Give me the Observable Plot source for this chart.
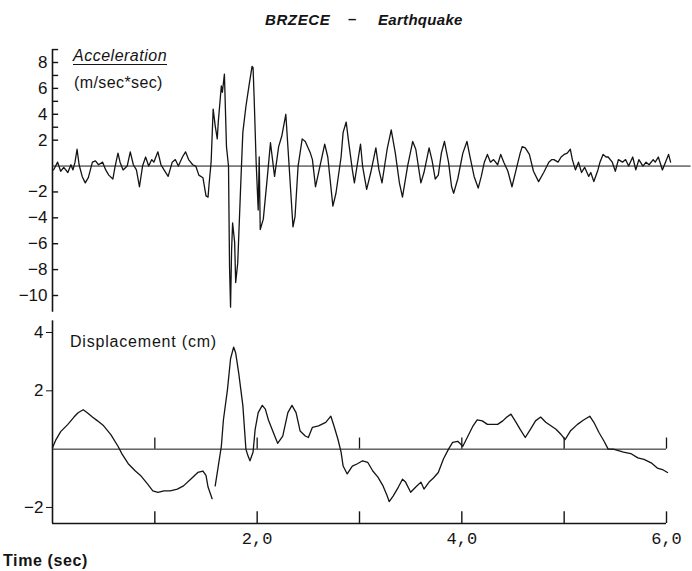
<!DOCTYPE html>
<html>
<head>
<meta charset="utf-8">
<script src="https://cdn.jsdelivr.net/npm/d3@7"></script>
<script src="https://cdn.jsdelivr.net/npm/@observablehq/plot@0.6"></script>
<style>
  html, body { margin: 0; padding: 0; background: #fff; overflow: hidden; }
  #wrap { position: relative; width: 692px; height: 571px; overflow: hidden;
          font-family: "Liberation Sans", Arial, sans-serif; color: #141414; }
  #wrap svg { position: absolute; left: 0; top: 0; }
  .t { position: absolute; white-space: nowrap; line-height: 16px; }
</style>
</head>
<body>
<div id="wrap">
  <div class="t" style="left:265px;top:12px;font-size:15px;font-weight:bold;font-style:italic;letter-spacing:0.6px;">BRZECE</div>
  <div class="t" style="left:348px;top:11px;font-size:15px;font-weight:bold;">–</div>
  <div class="t" style="left:378px;top:12px;font-size:15px;font-weight:bold;font-style:italic;letter-spacing:0.3px;">Earthquake</div>
  <div class="t" style="left:73px;top:48px;font-size:16px;font-style:italic;letter-spacing:0.5px;text-decoration:underline;text-underline-offset:3px;text-decoration-thickness:1px;">Acceleration</div>
  <div class="t" style="left:74px;top:75px;font-size:16px;letter-spacing:0.4px;">(m/sec*sec)</div>
  <div class="t" style="left:70px;top:334px;font-size:16px;letter-spacing:0.8px;">Displacement (cm)</div>
  <div class="t" style="left:3px;top:553px;font-size:16px;font-weight:bold;letter-spacing:0.6px;">Time (sec)</div>
</div>
<script>
// Acceleration record (m/sec*sec)
const accTime = [0.01,0.05,0.08,0.11,0.15,0.18,0.20,0.22,0.24,0.26,
  0.29,0.32,0.35,0.39,0.42,0.45,0.49,0.52,0.55,0.59,
  0.61,0.64,0.66,0.69,0.73,0.76,0.79,0.82,0.85,0.88,
  0.91,0.94,0.97,0.99,1.03,1.06,1.09,1.13,1.17,1.20,
  1.23,1.27,1.30,1.33,1.37,1.40,1.43,1.47,1.50,1.52,
  1.53,1.55,1.57,1.59,1.61,1.62,1.65,1.66,1.68,1.70,
  1.72,1.73,1.74,1.75,1.76,1.78,1.79,1.81,1.84,1.86,
  1.89,1.92,1.95,1.96,1.97,1.99,2.01,2.02,2.03,2.06,
  2.10,2.13,2.17,2.21,2.24,2.28,2.31,2.35,2.37,2.40,
  2.44,2.47,2.52,2.54,2.57,2.60,2.66,2.69,2.74,2.77,
  2.82,2.84,2.87,2.89,2.93,2.95,2.99,3.01,3.03,3.07,
  3.11,3.16,3.19,3.22,3.27,3.31,3.35,3.39,3.42,3.47,
  3.52,3.55,3.60,3.63,3.68,3.71,3.74,3.77,3.80,3.83,
  3.87,3.90,3.92,3.96,4.01,4.05,4.08,4.12,4.16,4.19,
  4.22,4.25,4.28,4.31,4.35,4.38,4.41,4.45,4.49,4.53,
  4.57,4.59,4.62,4.66,4.70,4.75,4.80,4.85,4.88,4.90,
  4.94,4.97,5.00,5.03,5.06,5.08,5.11,5.14,5.17,5.20,
  5.24,5.26,5.29,5.33,5.35,5.38,5.41,5.43,5.47,5.50,
  5.53,5.57,5.60,5.63,5.67,5.70,5.73,5.77,5.80,5.83,
  5.87,5.89,5.92,5.96,5.99,6.02,6.04];
const accValue = [-0.3,0.3,-0.4,-0.1,-0.5,0.1,-0.3,0.3,1.3,0.1,
  -0.8,-1.3,-0.9,0.3,0.4,0.1,0.3,-0.3,-0.7,-1.0,
  -0.1,1.0,0.3,-0.3,0.0,1.1,0.1,-0.3,-1.6,0.0,
  0.7,0.0,0.5,0.3,1.1,0.1,-0.3,-0.8,0.3,0.5,
  0.0,0.7,1.1,0.5,0.1,0.0,-0.7,-0.9,-2.3,-2.4,
  -1.4,0.3,4.4,3.1,2.1,3.4,6.2,5.7,7.1,1.5,
  0.0,-7.8,-10.9,-6.5,-4.4,-5.9,-9.0,-7.5,-1.3,2.6,
  4.6,6.2,7.7,7.6,5.4,0.3,-3.4,0.7,-4.9,-4.1,
  -0.8,1.8,-0.8,1.5,2.3,4.0,0.3,-4.7,-3.9,0.0,
  2.1,1.9,1.0,0.5,-1.6,-0.5,1.7,0.7,-3.1,-2.1,
  0.7,2.6,3.4,2.1,-0.3,-1.3,0.7,1.7,0.0,-1.8,
  -0.5,1.4,-0.3,-1.3,1.3,2.8,1.0,-1.3,-2.4,0.0,
  1.9,1.3,-1.3,-0.5,1.4,0.4,-1.0,-0.7,1.0,1.9,
  0.3,-1.6,-2.1,-1.0,1.0,1.9,0.7,-0.8,-1.7,-0.8,
  0.3,0.9,0.3,0.5,0.1,0.9,0.3,-0.4,-1.6,-0.3,
  1.0,1.5,1.4,0.9,-0.4,-1.2,-0.5,0.3,0.5,0.5,
  0.3,0.7,0.9,1.0,1.3,0.5,-0.3,0.3,-0.5,-0.1,
  -0.8,-0.5,-1.2,-0.3,0.3,0.9,0.7,0.7,0.3,-0.4,
  0.5,0.3,0.5,0.0,0.7,-0.3,0.5,0.0,0.3,0.1,
  0.5,0.3,0.7,-0.3,0.3,0.9,0.3];

// Displacement record (cm); null marks the break in the trace
const dispTime = [0.00,0.03,0.08,0.15,0.21,0.25,0.30,0.34,0.39,0.44,
  0.50,0.57,0.64,0.68,0.74,0.81,0.86,0.93,0.98,1.03,
  1.09,1.15,1.22,1.28,1.35,1.42,1.47,1.50,1.52,1.56,
  1.575,1.59,1.62,1.65,1.67,1.71,1.74,1.77,1.79,1.82,
  1.86,1.89,1.91,1.93,1.96,1.98,2.01,2.05,2.08,2.11,
  2.16,2.20,2.25,2.30,2.34,2.38,2.42,2.47,2.50,2.54,
  2.60,2.67,2.72,2.75,2.79,2.82,2.84,2.88,2.93,2.98,
  3.03,3.08,3.13,3.18,3.23,3.27,3.29,3.33,3.38,3.42,
  3.45,3.50,3.55,3.60,3.63,3.68,3.72,3.77,3.82,3.87,
  3.91,3.96,4.01,4.06,4.11,4.15,4.20,4.25,4.30,4.35,
  4.40,4.44,4.48,4.53,4.57,4.62,4.67,4.72,4.77,4.82,
  4.87,4.92,4.97,5.01,5.06,5.13,5.19,5.25,5.29,5.34,
  5.39,5.43,5.48,5.53,5.58,5.65,5.72,5.78,5.85,5.91,
  5.96,6.01];
const dispValue = [0.05,0.3,0.6,0.85,1.1,1.25,1.35,1.25,1.1,0.97,
  0.8,0.5,0.1,-0.17,-0.5,-0.75,-0.9,-1.2,-1.43,-1.48,
  -1.43,-1.43,-1.37,-1.26,-1.03,-0.8,-0.75,-0.9,-1.3,-1.7,
  null,-1.26,-0.58,0.1,1.0,2.05,3.1,3.5,3.3,2.6,
  1.5,0.0,-0.23,-0.4,-0.1,0.67,1.25,1.5,1.37,1.0,
  0.55,0.2,0.45,1.25,1.5,1.25,0.62,0.45,0.4,0.75,
  0.8,0.92,1.13,0.8,0.33,-0.1,-0.58,-0.85,-0.58,-0.5,
  -0.4,-0.45,-0.75,-0.96,-1.26,-1.6,-1.8,-1.6,-1.3,-1.03,
  -1.13,-1.48,-1.3,-1.13,-1.37,-1.13,-1.0,-0.8,-0.34,0.0,
  0.23,0.27,0.1,0.45,0.8,1.0,0.97,0.85,0.85,0.85,
  0.97,1.1,1.2,0.92,0.68,0.4,0.68,0.97,1.1,0.92,
  0.8,0.68,0.5,0.33,0.62,0.85,1.0,1.13,0.92,0.57,
  0.27,0.0,0.0,-0.05,-0.1,-0.15,-0.3,-0.35,-0.47,-0.65,
  -0.7,-0.8];

// Axis ticks and labels
const accTickLabels = [8, 6, 4, 2, -2, -4, -6, -8, -10];
const accTickMarks = [9, 8, 7, 6, 5, 4, 3, 2, -2, -4, -6, -8, -10];
const dispTickLabels = [4, 2, -2];
const timeTicks = [1, 2, 3, 4, 5, 6];
const timeLabelValues = [2, 4, 6];
const timeLabels = ["2,0", "4,0", "6,0"];

const accData = accTime.map((t, i) => ({t, a: accValue[i]}));
const dispData = dispTime.map((t, i) => ({t, d: dispValue[i]}));

const ink = "#141414";
const base = {
  width: 692, height: 571, marginLeft: 52, marginRight: 26,
  style: {background: "transparent", overflow: "visible", color: ink,
          fontFamily: "'Liberation Sans', Arial, sans-serif"}
};

const accPlot = Plot.plot({
  ...base,
  marginTop: 62, marginBottom: 276,
  x: {domain: [0, 6], axis: null},
  y: {domain: [-10, 8]},
  marks: [
    Plot.ruleY([0], {x1: 0, x2: 6.24, stroke: ink, strokeWidth: 1}),
    Plot.ruleX([0], {y1: -11.3, y2: 9, stroke: ink, strokeWidth: 1.6}),
    Plot.ruleY(accTickMarks, {x1: 0, x2: 0.06, stroke: ink, strokeWidth: 1.4}),
    Plot.axisY(accTickLabels, {anchor: "left", tickSize: 0, tickPadding: 5, fontSize: 17, label: null}),
    Plot.line(accData, {x: "t", y: "a", stroke: ink, strokeWidth: 1.3})
  ]
});

const dispPlot = Plot.plot({
  ...base,
  marginTop: 332, marginBottom: 48,
  x: {domain: [0, 6]},
  y: {domain: [-2.55, 4]},
  marks: [
    Plot.ruleY([0], {x1: 0, x2: 6, stroke: ink, strokeWidth: 1}),
    Plot.ruleX(timeTicks, {y1: 0, y2: 0.38, stroke: ink, strokeWidth: 1.3}),
    Plot.ruleX([0], {y1: -2.55, y2: 4.4, stroke: ink, strokeWidth: 1.6}),
    Plot.ruleY([-2.55], {x1: 0, x2: 6, stroke: ink, strokeWidth: 1.6}),
    Plot.ruleX(timeTicks, {y1: -2.55, y2: -2.15, stroke: ink, strokeWidth: 1.4}),
    Plot.axisY(dispTickLabels, {anchor: "left", tickSize: 6, tickPadding: 3, fontSize: 17, label: null}),
    Plot.axisX(timeLabelValues, {anchor: "bottom", tickSize: 0, tickPadding: 8, fontSize: 17,
      fontFamily: "'Liberation Mono', monospace", label: null,
      tickFormat: d => timeLabels[timeLabelValues.indexOf(d)]}),
    Plot.line(dispData, {x: "t", y: "d", stroke: ink, strokeWidth: 1.3})
  ]
});

const wrap = document.getElementById("wrap");
wrap.insertBefore(dispPlot, wrap.firstChild);
wrap.insertBefore(accPlot, wrap.firstChild);
</script>
</body>
</html>
